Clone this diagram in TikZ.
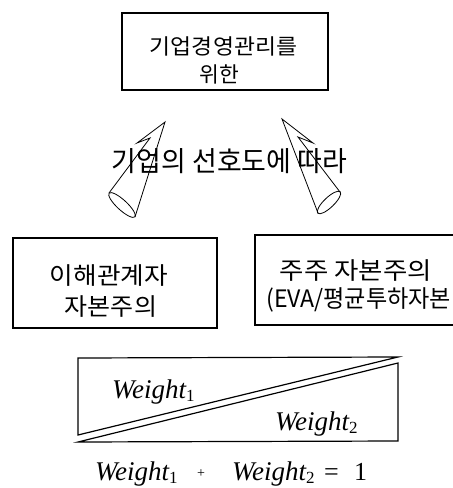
\documentclass[tikz,border=0pt]{standalone}
\usepackage{fontspec}
\usepackage{graphicx}
\setmainfont{Liberation Serif}
\newfontfamily\kr{Noto Sans CJK KR}
\newcommand{\subdigit}[1]{\raisebox{-3.5pt}{\fontsize{17}{17}\selectfont\upshape #1}}
\newcommand{\kw}[2]{\resizebox{#1}{\height}{#2}}
\begin{document}
\begin{tikzpicture}[x=1pt,y=-1pt,
  boxnode/.style={draw, line width=1.1pt, inner sep=0pt},
  krtop/.style={inner sep=0pt, font=\kr\fontsize{21.5}{26}\selectfont},
  krbox/.style={inner sep=0pt, font=\kr\fontsize{24}{28}\selectfont},
  krmid/.style={inner sep=0pt, font=\kr\fontsize{22.5}{26}\selectfont},
  cone/.style={line width=0.8pt, line join=miter},
  bx/.style={line width=1.2pt, line join=miter},
  wt/.style={inner sep=0pt, anchor=base west, font=\fontsize{27}{30}\selectfont\itshape},
  wf/.style={inner sep=0pt, anchor=base west, font=\fontsize{27}{30}\selectfont\itshape}]
\useasboundingbox (0,0) rectangle (453,488);

% top box
\node[boxnode, minimum width=206pt, minimum height=77pt] (top) at (225,51.5) {};
\node[krtop] (t1) at (223.5,46) {\kw{147pt}{기업경영관리를}};
\node[krtop] (t2) at (219.5,74) {위한};

% middle label
\node[krmid] (mid) at (229.5,161.5) {\resizebox{235pt}{23pt}{기업의 선호도에 따라}};

% left cone arrow
\draw[cone] (109,193) -- (150,138) -- (137,143) -- (165,122) -- (135,217);
\draw[cone, rotate around={-42.7:(122,205)}] (122,205) ellipse [x radius=17.5pt, y radius=5pt];

% right cone arrow
\draw[cone] (340,192) -- (298,137) -- (313,143) -- (282,119) -- (318,213);
\draw[cone, rotate around={43.7:(329,202.5)}] (329,202.5) ellipse [x radius=15.5pt, y radius=5pt];

% left box
\node[boxnode, minimum width=204pt, minimum height=90pt] (lbox) at (115,283) {};
\node[krbox] (l1) at (109,276) {\kw{118pt}{이해관계자}};
\node[krbox] (l2) at (111,307) {\kw{92pt}{자본주의}};

% right box (runs past the right edge)
\node[boxnode, minimum width=215pt, minimum height=90pt] (rbox) at (362.5,280) {};
\node[krbox] (r1) at (356,271) {\kw{152pt}{주주 자본주의}};
\node[krbox, anchor=west] (r2) at (266,300) {\kw{185pt}{(EVA/평균투하자본}};

% weight box
\draw[bx] (78,358) -- (398,357) -- (78,435) -- cycle;
\draw[bx] (78,442) -- (398,363) -- (398,441) -- cycle;
\node[wt] (w1) at (112,398) {Weight\subdigit{1}};
\node[wt] (w2) at (275,430) {Weight\subdigit{2}};

% formula
\node[wf] (f1) at (95,480) {Weight\subdigit{1}};
\node[inner sep=0pt, anchor=base, font=\fontsize{14}{16}\selectfont] (fp) at (201,477) {+};
\node[wf] (f2) at (232,480) {Weight\subdigit{2}};
\node[inner sep=0pt, anchor=base west, font=\fontsize{26}{30}\selectfont] (feq) at (324,480) {=};
\node[inner sep=0pt, anchor=base west, font=\fontsize{26}{30}\selectfont] (fone) at (354,480) {1};
\end{tikzpicture}
\end{document}
